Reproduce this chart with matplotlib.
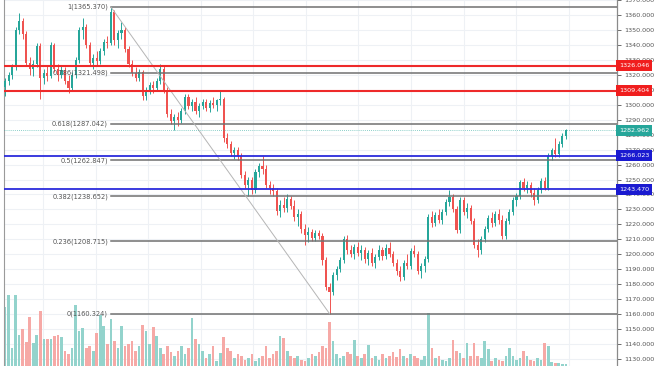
import numpy as np
import matplotlib.pyplot as plt
from matplotlib.transforms import blended_transform_factory

# candles: open, high, low, close
ohlc = [
    (1312, 1318, 1306, 1316), (1316, 1322, 1313, 1320), (1320, 1327, 1317, 1325), (1325, 1352, 1323, 1350),
    (1350, 1361, 1347, 1356), (1356, 1358, 1344, 1347), (1347, 1349, 1326, 1328), (1328, 1332, 1320, 1324),
    (1324, 1330, 1319, 1327), (1327, 1341, 1325, 1339), (1339, 1341, 1304, 1318), (1318, 1324, 1314, 1321),
    (1321, 1326, 1316, 1319), (1319, 1342, 1318, 1340), (1340, 1341, 1322, 1324), (1324, 1327, 1316, 1320),
    (1320, 1326, 1318, 1323), (1323, 1325, 1314, 1316), (1316, 1320, 1308, 1311), (1311, 1322, 1309, 1320),
    (1320, 1332, 1318, 1330), (1330, 1352, 1328, 1350), (1350, 1358, 1344, 1352), (1352, 1354, 1338, 1340),
    (1340, 1342, 1326, 1328), (1328, 1334, 1324, 1331), (1331, 1336, 1326, 1329), (1329, 1338, 1327, 1336),
    (1336, 1344, 1333, 1342), (1342, 1346, 1338, 1341), (1341, 1365.37, 1340, 1362), (1362, 1363, 1340, 1343),
    (1343, 1350, 1338, 1348), (1348, 1355, 1344, 1350), (1350, 1352, 1335, 1337), (1337, 1339, 1325, 1327),
    (1327, 1330, 1319, 1321), (1321, 1325, 1316, 1318), (1318, 1324, 1316, 1322), (1322, 1323, 1303, 1306),
    (1306, 1312, 1303, 1310), (1310, 1315, 1307, 1313), (1313, 1316, 1308, 1311), (1311, 1318, 1309, 1316),
    (1316, 1327, 1314, 1324), (1324, 1326, 1308, 1310), (1310, 1312, 1292, 1294), (1294, 1297, 1287, 1289),
    (1289, 1294, 1283, 1292), (1292, 1295, 1286, 1290), (1290, 1298, 1288, 1296), (1296, 1307, 1294, 1305),
    (1305, 1307, 1297, 1299), (1299, 1304, 1296, 1302), (1302, 1305, 1294, 1296), (1296, 1301, 1292, 1299),
    (1299, 1304, 1297, 1302), (1302, 1304, 1296, 1298), (1298, 1303, 1295, 1301), (1301, 1305, 1298, 1300),
    (1300, 1304, 1296, 1303), (1303, 1309, 1300, 1304), (1304, 1305, 1275, 1278), (1278, 1281, 1271, 1274),
    (1274, 1276, 1266, 1268), (1268, 1272, 1264, 1270), (1270, 1272, 1263, 1266), (1266, 1268, 1251, 1253),
    (1253, 1256, 1244, 1246), (1246, 1252, 1239, 1250), (1250, 1252, 1240, 1243), (1243, 1257, 1241, 1255),
    (1255, 1261, 1252, 1259), (1259, 1266, 1254, 1257), (1257, 1260, 1244, 1246), (1246, 1249, 1240, 1244),
    (1244, 1247, 1239, 1242), (1242, 1244, 1226, 1229), (1229, 1236, 1225, 1233), (1233, 1238, 1228, 1231),
    (1231, 1240, 1228, 1237), (1237, 1239, 1230, 1232), (1232, 1236, 1222, 1225), (1225, 1230, 1219, 1227),
    (1227, 1229, 1214, 1217), (1217, 1220, 1206, 1213), (1213, 1218, 1208, 1215), (1215, 1217, 1209, 1211),
    (1211, 1216, 1209, 1214), (1214, 1216, 1210, 1212), (1212, 1214, 1193, 1196), (1196, 1198, 1176, 1178),
    (1178, 1181, 1160.324, 1175), (1175, 1188, 1173, 1186), (1186, 1192, 1183, 1190), (1190, 1198, 1188, 1196),
    (1196, 1212, 1194, 1210), (1210, 1213, 1200, 1203), (1203, 1206, 1198, 1200), (1200, 1207, 1197, 1205),
    (1205, 1208, 1199, 1201), (1201, 1206, 1196, 1203), (1203, 1205, 1194, 1197), (1197, 1203, 1193, 1201),
    (1201, 1204, 1192, 1194), (1194, 1200, 1191, 1198), (1198, 1206, 1196, 1203), (1203, 1205, 1196, 1199),
    (1199, 1207, 1197, 1204), (1204, 1208, 1198, 1200), (1200, 1202, 1192, 1194), (1194, 1197, 1186, 1189),
    (1189, 1192, 1182, 1185), (1185, 1196, 1183, 1194), (1194, 1200, 1190, 1192), (1192, 1204, 1190, 1202),
    (1202, 1206, 1198, 1200), (1200, 1202, 1187, 1189), (1189, 1194, 1184, 1192), (1192, 1199, 1188, 1197),
    (1197, 1227, 1195, 1225), (1225, 1229, 1218, 1221), (1221, 1228, 1219, 1226), (1226, 1230, 1221, 1223),
    (1223, 1230, 1220, 1228), (1228, 1237, 1226, 1235), (1235, 1243, 1232, 1238), (1238, 1240, 1228, 1230),
    (1230, 1232, 1214, 1216), (1216, 1238, 1214, 1236), (1236, 1238, 1226, 1228), (1228, 1234, 1224, 1231),
    (1231, 1233, 1220, 1222), (1222, 1224, 1204, 1206), (1206, 1210, 1198, 1203), (1203, 1212, 1200, 1210),
    (1210, 1219, 1208, 1217), (1217, 1226, 1215, 1224), (1224, 1228, 1218, 1221), (1221, 1229, 1219, 1227),
    (1227, 1230, 1220, 1223), (1223, 1226, 1210, 1212), (1212, 1224, 1210, 1222), (1222, 1230, 1220, 1228),
    (1228, 1238, 1226, 1236), (1236, 1241, 1232, 1239), (1239, 1250, 1237, 1248), (1248, 1251, 1242, 1244),
    (1244, 1249, 1241, 1246), (1246, 1248, 1238, 1241), (1241, 1244, 1233, 1236), (1236, 1245, 1234, 1243),
    (1243, 1251, 1241, 1249), (1249, 1252, 1243, 1244), (1244, 1268, 1243, 1266), (1266, 1271, 1263, 1270),
    (1270, 1278, 1265, 1267), (1267, 1276, 1265, 1274), (1274, 1281, 1272, 1279), (1279, 1284, 1277, 1282.962),
]

volume = [
    59, 71, 18, 71, 31, 37, 24, 49, 23, 31, 55, 27, 27, 27, 30, 31, 29, 15, 12, 18,
    61, 35, 38, 18, 20, 15, 33, 51, 40, 22, 47, 25, 18, 40, 20, 22, 25, 15, 20, 41,
    35, 22, 39, 30, 18, 12, 20, 14, 10, 15, 20, 12, 18, 48, 27, 22, 15, 8, 12, 20,
    5, 13, 29, 18, 15, 8, 12, 10, 6, 8, 12, 5, 8, 10, 20, 8, 12, 15, 30, 28,
    15, 10, 8, 10, 6, 5, 8, 12, 10, 14, 20, 18, 44, 25, 12, 8, 10, 14, 12, 26,
    10, 8, 12, 21, 8, 10, 6, 12, 8, 10, 14, 9, 17, 10, 8, 12, 10, 8, 6, 10,
    53, 18, 8, 10, 6, 5, 8, 26, 15, 13, 8, 23, 10, 23, 10, 8, 25, 17, 5, 8,
    6, 5, 10, 18, 10, 6, 8, 15, 10, 6, 5, 8, 6, 23, 20, 4, 3, 3, 2, 2,
]

fib_levels = [1, 0.786, 0.618, 0.5, 0.382, 0.236, 0]
fib_prices = [1365.370, 1321.498, 1287.042, 1262.847, 1238.652, 1208.715, 1160.324]
red_levels = [1326.046, 1309.404]
blue_levels = [1266.023, 1243.470]
last_price = 1282.962

data = np.array(ohlc, dtype=float)
o, h, l, c = data.T
x = np.arange(len(data))
up = c >= o

TEAL = '#26a69a'
RED = '#ef5350'

fig = plt.figure(figsize=(6.54, 3.66), dpi=100)
ax = fig.add_axes([4 / 654, 0, 613 / 654, 1])
ax.set_xlim(-0.3, 173.5)
ax.set_ylim(1125.33, 1369.33)

# grid
ax.set_axisbelow(True)
ticks = np.arange(1130, 1371, 10)
ax.set_yticks(ticks)
ax.set_yticklabels([f'{v:.3f}' for v in ticks])
ax.set_xticks(np.arange(10.8, 173, 14.9))
ax.set_xticklabels([])
ax.grid(True, color='#eef1f5', linewidth=0.8)
ax.yaxis.tick_right()
ax.tick_params(axis='y', labelsize=4.6, colors='#555555', length=3, width=0.6, pad=2)
ax.tick_params(axis='x', length=0)
for s in ['top', 'bottom']:
    ax.spines[s].set_visible(False)
ax.spines['left'].set_color('#9a9a9a')
ax.spines['right'].set_color('#8a8a8a')
ax.spines['left'].set_linewidth(0.8)
ax.spines['right'].set_linewidth(0.9)

# volume in the bottom strip
vtrans = blended_transform_factory(ax.transData, ax.transAxes)
vcol = np.where(up, '#93d3cc', '#f6a9a6')
ax.bar(x, np.array(volume) / 366, width=0.75, bottom=0, color=vcol, transform=vtrans, zorder=1)

# candles
col = np.where(up, TEAL, RED)
ax.vlines(x, l, h, colors=col, linewidth=0.7, zorder=3)
body = np.maximum(np.abs(c - o), 0.4)
ax.bar(x, body, bottom=np.minimum(o, c), width=0.6, color=col, zorder=4)

# fib retracement
i_hi = int(np.argmax(h))
i_lo = int(np.argmin(l))
for lv, price in zip(fib_levels, fib_prices):
    ax.plot([i_hi, 173.5], [price, price], color='#707070', linewidth=1.1, zorder=5)
    ax.text(i_hi - 0.8, price, f'{lv:g}({price:.3f})', ha='right', va='center',
            fontsize=4.8, color='#555555', zorder=6)
ax.plot([i_hi, i_lo], [fib_prices[0], fib_prices[-1]], color='#b5b5b5', linewidth=0.7, zorder=5)

# horizontal levels
ytrans = blended_transform_factory(ax.transAxes, ax.transData)
for lv in red_levels:
    ax.axhline(lv, color='#ee2a2a', linewidth=1.5, zorder=6)
for lv in blue_levels:
    ax.axhline(lv, color='#2b2bdc', linewidth=1.3, zorder=6)
ax.axhline(last_price, color=TEAL, linewidth=0.6, linestyle=(0, (1, 1.5)), alpha=0.7, zorder=6)

boxes = [(v, '#f01e1e') for v in red_levels] + [(last_price, TEAL)] + [(v, '#1a1ad0') for v in blue_levels]
for v, bc in boxes:
    ax.text(1.003, v, f'{v:.3f}', transform=ytrans, ha='left', va='center', fontsize=4.6,
            color='white', clip_on=False, zorder=10,
            bbox=dict(boxstyle='square,pad=0.45', fc=bc, ec='none'))

fig.savefig('out.png', dpi=100)
